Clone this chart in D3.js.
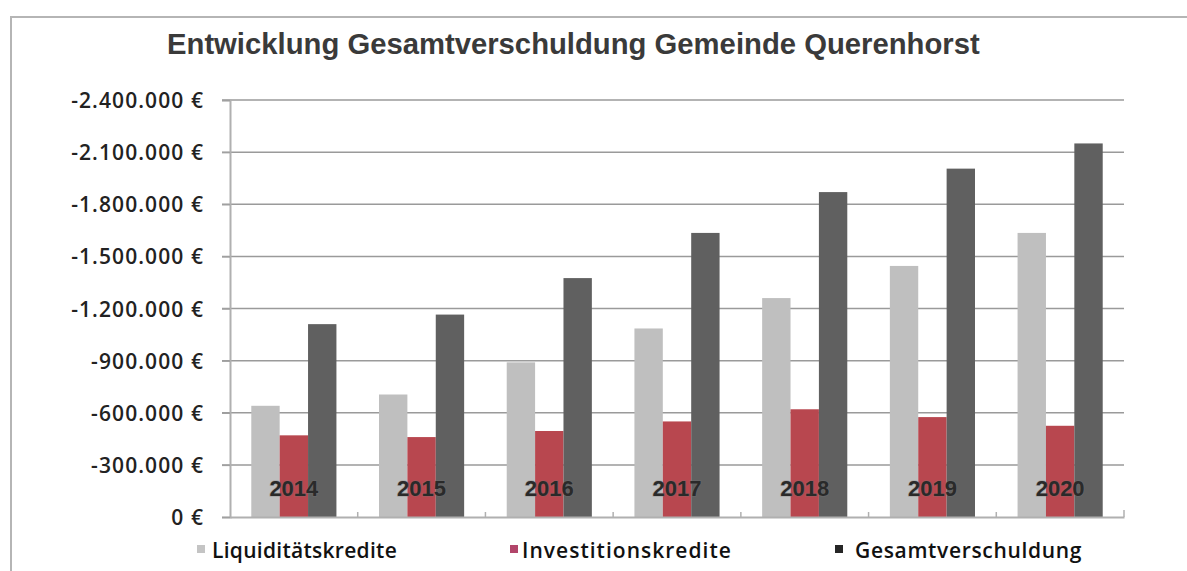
<!DOCTYPE html>
<html>
<head>
<meta charset="utf-8">
<script src="https://cdn.jsdelivr.net/npm/d3@7"></script>
<style>
  html, body { margin: 0; padding: 0; background: #fff; }
  svg { display: block; }
</style>
</head>
<body>
<svg id="chart" width="1187" height="571"></svg>
<script>
// ---- data ----
const years = ["2014", "2015", "2016", "2017", "2018", "2019", "2020"];
const seriesNames = ["Liquiditätskredite", "Investitionskredite", "Gesamtverschuldung"];
const liquiditaet = [-640000, -705000, -890000, -1085000, -1260000, -1445000, -1635000];
const investition = [-470000, -460000, -495000, -550000, -620000, -575000, -525000];
const gesamt = [-1110000, -1165000, -1375000, -1635000, -1870000, -2005000, -2150000];
const yTicks = [0, -300000, -600000, -900000, -1200000, -1500000, -1800000, -2100000, -2400000];
const titleText = "Entwicklung Gesamtverschuldung Gemeinde Querenhorst";

const seriesValues = [liquiditaet, investition, gesamt];
const colors = ["#bfbfbf", "#b8474f", "#606060"];
const legendColors = ["#c4c4c4", "#b2456a", "#262626"];

const svg = d3.select("#chart");
const plot = { left: 230, right: 1124, top: 100, bottom: 517 };

function fitSpacing(sel, target) {
  const node = sel.node();
  const w = node.getComputedTextLength();
  const n = node.textContent.length;
  return (target - w) / Math.max(1, n);
}

// outer frame (top + left)
svg.append("path")
  .attr("d", `M11,571 L11,17 L1187,17`)
  .attr("fill", "none").attr("stroke", "#b5b5b5").attr("stroke-width", 2);

// scales
const x0 = d3.scaleBand().domain(years).range([plot.left, plot.right]).padding(0);
const x1 = d3.scaleBand().domain(seriesNames).range([0, x0.bandwidth()])
  .paddingInner(0).paddingOuter(0.75);
const y = d3.scaleLinear().domain([0, -2400000]).range([plot.bottom, plot.top]);

const fmt = v => {
  const s = Math.abs(v).toString().replace(/\B(?=(\d{3})+(?!\d))/g, ".");
  return (v < 0 ? "-" : "") + s + " €";
};

// gridlines
svg.append("g").selectAll("line").data(yTicks.filter(t => t !== 0)).join("line")
  .attr("x1", plot.left - 8).attr("x2", plot.right)
  .attr("y1", d => y(d)).attr("y2", d => y(d))
  .attr("stroke", "#9a9a9a").attr("stroke-width", 1.5);

// y axis
const yAxis = d3.axisLeft(y).tickValues(yTicks).tickFormat(fmt).tickSize(8).tickPadding(19);
const gy = svg.append("g").attr("transform", `translate(${plot.left},0)`).call(yAxis);
gy.select(".domain").attr("stroke", "#b0b0b0").attr("stroke-width", 2);
gy.selectAll(".tick line").attr("stroke", "#a0a0a0").attr("stroke-width", 1.5);
const yTexts = gy.selectAll(".tick text")
  .attr("fill", "#222")
  .attr("dy", "0.36em")
  .style("font-family", "'Open Sans', 'Noto Sans', sans-serif")
  .style("font-weight", "600")
  .style("font-size", "21px");
{
  const topLabel = yTexts.filter(d => d === -2400000);
  const ls = Math.max(0, fitSpacing(topLabel, 133));
  yTexts.style("letter-spacing", ls.toFixed(2) + "px").attr("dx", ls.toFixed(2));
}

// bars
const groups = svg.append("g").selectAll("g").data(years).join("g")
  .attr("transform", d => `translate(${x0(d)},0)`);
groups.selectAll("rect")
  .data((yr, i) => seriesNames.map((s, k) => ({ s, k, v: seriesValues[k][i] })))
  .join("rect")
  .attr("x", d => x1(d.s))
  .attr("width", x1.bandwidth())
  .attr("y", d => y(d.v))
  .attr("height", d => y(0) - y(d.v))
  .attr("fill", d => colors[d.k]);

// x axis baseline
const xAxis = d3.axisBottom(x0).tickSize(0).tickFormat("");
const gx = svg.append("g").attr("transform", `translate(0,${plot.bottom})`).call(xAxis);
gx.select(".domain").attr("stroke", "#b0b0b0").attr("stroke-width", 2);
svg.append("g").selectAll("line").data(years.slice(1)).join("line")
  .attr("x1", d => x0(d)).attr("x2", d => x0(d))
  .attr("y1", plot.bottom - 5).attr("y2", plot.bottom)
  .attr("stroke", "#b0b0b0").attr("stroke-width", 1.5);
svg.append("line")
  .attr("x1", plot.right).attr("x2", plot.right)
  .attr("y1", plot.bottom - 7).attr("y2", plot.bottom)
  .attr("stroke", "#b0b0b0").attr("stroke-width", 1.5);

// year labels inside plot
svg.append("g").selectAll("text").data(years).join("text")
  .attr("x", d => x0(d) + x0.bandwidth() / 2)
  .attr("y", 496)
  .attr("text-anchor", "middle")
  .attr("fill", "#2a2a2a")
  .attr("stroke", "rgba(120,120,120,0.35)").attr("stroke-width", 1.5).attr("paint-order", "stroke")
  .style("font-family", "'Liberation Sans', Arial, sans-serif")
  .style("font-weight", "bold")
  .style("font-size", "22px")
  .text(d => d);

// title
const title = svg.append("text")
  .attr("x", 167).attr("y", 54)
  .attr("fill", "#3a3a3a")
  .style("font-family", "'Liberation Sans', Arial, sans-serif")
  .style("font-weight", "bold")
  .style("font-size", "22px")
  .text(titleText);
const tw = title.node().getComputedTextLength();
title.style("font-size", (22 * 813 / tw).toFixed(2) + "px");

// legend
const legendX = [197, 510, 835];
const legendTextX = [15, 12, 20];
const legendW = [185, 210, 227];
const legend = svg.append("g").selectAll("g").data(seriesNames).join("g")
  .attr("transform", (d, i) => `translate(${legendX[i]},0)`);
legend.append("rect")
  .attr("x", 0).attr("y", 545).attr("width", 8).attr("height", 8)
  .attr("fill", (d, i) => legendColors[i]);
legend.append("text")
  .attr("x", (d, i) => legendTextX[i]).attr("y", 558)
  .attr("fill", "#111")
  .style("font-family", "'Open Sans', 'Noto Sans', sans-serif")
  .style("font-weight", "600")
  .style("font-size", "21px")
  .text(d => d)
  .each(function (d, i) {
    const sel = d3.select(this);
    const ls = Math.max(0, fitSpacing(sel, legendW[i]));
    sel.style("letter-spacing", ls.toFixed(2) + "px");
  });
</script>
</body>
</html>
